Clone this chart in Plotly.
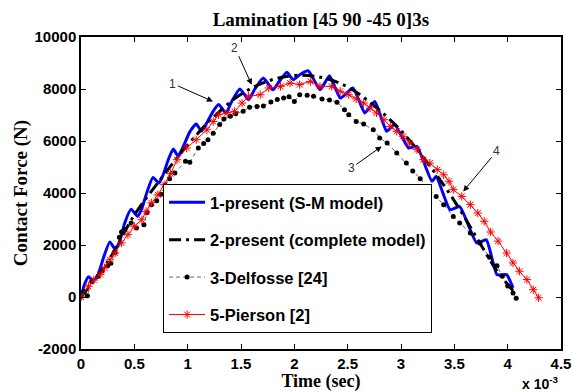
import plotly.graph_objects as go

# ---- data (time in 1e-3 s, force in N) ----
sm_t = [0, 0.03, 0.07, 0.11, 0.15, 0.21, 0.27, 0.32, 0.36, 0.41, 0.47, 0.53, 0.57, 0.62, 0.675,
        0.73, 0.77, 0.82, 0.865, 0.91, 0.96, 1.02, 1.08, 1.13, 1.18, 1.24, 1.29, 1.36, 1.41, 1.49,
        1.57, 1.63, 1.71, 1.80, 1.86, 1.93, 1.99, 2.05, 2.13, 2.24, 2.28, 2.33, 2.43, 2.48, 2.55,
        2.66, 2.70, 2.755, 2.865, 2.90, 2.94, 3.07, 3.10, 3.15, 3.29, 3.33, 3.46, 3.55, 3.71, 3.80,
        3.90, 3.99, 4.05]
sm_f = [0, 450, 780, 640, 760, 1500, 2120, 1840, 2100, 2850, 3380, 3100, 3400, 4050, 4600,
        4380, 4700, 5300, 5690, 5420, 5800, 6350, 6650, 6380, 6700, 7150, 7400, 7080, 7500, 8000,
        7590, 8000, 8420, 7970, 8300, 8640, 8360, 8550, 8700, 7970, 8200, 8510, 7650, 7800, 8040,
        7080, 7250, 7520, 6370, 6500, 6630, 5730, 5750, 5790, 4450, 4640, 3360, 3480, 2080, 2200,
        860, 860, 350]

cm_t = [0, 0.25, 0.5, 0.75, 1.0, 1.25, 1.5, 1.75, 2.0, 2.25, 2.5, 2.75, 3.0, 3.25, 3.5, 3.75, 3.9, 4.05]
cm_f = [0, 1350, 3150, 4550, 5850, 6950, 7800, 8300, 8520, 8450, 8080, 7350, 6400, 5150, 3700, 2000, 1000, 250]

df_t = [0.00, 0.03, 0.06, 0.10, 0.16, 0.20, 0.25, 0.28, 0.32, 0.36, 0.38, 0.41, 0.47, 0.52, 0.59,
        0.62, 0.66, 0.71, 0.75, 0.79, 0.83, 0.88, 0.98, 1.02, 1.10, 1.15, 1.19, 1.24, 1.30, 1.34,
        1.40, 1.45, 1.52, 1.58, 1.65, 1.71, 1.78, 1.84, 1.90, 1.95, 2.00, 2.05, 2.12, 2.18, 2.26,
        2.33, 2.40, 2.47, 2.51, 2.58, 2.65, 2.74, 2.80, 2.87, 2.96, 3.05, 3.11, 3.18, 3.24, 3.33,
        3.40, 3.49, 3.55, 3.65, 3.74, 3.83, 3.90, 3.95, 4.00, 4.05, 4.08]
df_f = [0, 200, 50, 600, 800, 1000, 1200, 1300, 1700, 2300, 2500, 2600, 2850, 2650, 2780,
        3250, 3550, 3700, 3950, 4300, 4550, 4770, 5220, 5180, 5730, 5900, 6050, 6300, 6630, 6850,
        6950, 7050, 7140, 7300, 7330, 7350, 7500, 7600, 7650, 7700, 7520, 7780, 7760, 7720, 7620,
        7580, 7490, 7200, 7010, 6750, 6650, 6430, 6120, 5920, 5540, 5150, 4850, 4550, 4250, 3870,
        3550, 3100, 2850, 2460, 2080, 1530, 1200, 800, 420, 150, -50]

pi_t = [0, 0.07, 0.12, 0.18, 0.22, 0.27, 0.32, 0.38, 0.44, 0.50, 0.57, 0.61, 0.66, 0.72, 0.78,
        0.84, 0.90, 0.99, 1.08, 1.18, 1.24, 1.29, 1.37, 1.44, 1.51, 1.57, 1.68, 1.76, 1.87, 1.96,
        2.05, 2.15, 2.24, 2.35, 2.43, 2.51, 2.58, 2.65, 2.71, 2.77, 2.84, 2.90, 2.96, 3.02, 3.08,
        3.15, 3.21, 3.27, 3.34, 3.40, 3.45, 3.49, 3.57, 3.65, 3.72, 3.78, 3.84, 3.91, 3.99, 4.05,
        4.11, 4.18, 4.24, 4.29]
pi_f = [0, 410, 650, 860, 1120, 1430, 1690, 2080, 2400, 2720, 2970, 3290, 3620, 3930, 4320,
        4750, 5280, 5730, 6050, 6430, 6750, 7010, 7080, 7140, 7460, 7720, 7780, 8040, 8100, 8230,
        8170, 8290, 8100, 8100, 7910, 7780, 7620, 7460, 7270, 7080, 6820, 6560, 6370, 6180, 5920,
        5670, 5280, 5150, 4900, 4700, 4450, 4130, 3870, 3550, 3230, 2910, 2500, 2150, 1690, 1310,
        990, 670, 280, -30]

names = ["1-present (S-M model)", "2-present (complete model)", "3-Delfosse [24]", "5-Pierson [2]"]
x_ticks = [0, 0.5, 1, 1.5, 2, 2.5, 3, 3.5, 4, 4.5]
x_ticktext = ["0", "0.5", "1", "1.5", "2", "2.5", "3", "3.5", "4", "4.5"]
y_ticks = [-2000, 0, 2000, 4000, 6000, 8000, 10000]
y_ticktext = ["-2000", "0", "2000", "4000", "6000", "8000", "10000"]

# arrows: (label, head_t, head_f, text_t, text_f)
arrows = [("1", 1.237, 7523, 0.862, 8203),
          ("2", 1.60, 8165, 1.443, 9588),
          ("3", 2.818, 5792, 2.534, 4961),
          ("4", 3.583, 4061, 3.896, 5600)]

fig = go.Figure()
fig.add_trace(go.Scatter(x=sm_t, y=sm_f, mode="lines", name=names[0], legendgroup="a",
                         line=dict(color="#0000ff", width=3, shape="spline", smoothing=0.5)))
fig.add_trace(go.Scatter(x=cm_t, y=cm_f, mode="lines", name=names[1], legendgroup="b",
                         line=dict(color="black", width=3, dash="12px,5px,3px,5px", shape="spline")))
fig.add_trace(go.Scatter(x=df_t, y=df_f, mode="lines+markers", name=names[2], legendgroup="c",
                         line=dict(color="black", width=0.6, dash="4px,3px"),
                         marker=dict(symbol="circle", size=5, color="black")))
fig.add_trace(go.Scatter(x=pi_t, y=pi_f, mode="lines+markers", name=names[3], legendgroup="d",
                         line=dict(color="red", width=1),
                         marker=dict(symbol="asterisk-open", size=7, line=dict(color="red", width=1))))

for lab, ht, hf, tt, tf in arrows:
    fig.add_annotation(x=ht, y=hf, ax=tt, ay=tf, xref="x", yref="y", axref="x", ayref="y",
                       text=lab, showarrow=True, arrowhead=2, arrowsize=1.2, arrowwidth=1,
                       arrowcolor="black", font=dict(family="Liberation Sans", size=12, color="#333"))

fig.add_annotation(x=1.0, y=-0.11, xref="paper", yref="paper", showarrow=False,
                   text="<b>x 10<sup>-3</sup></b>", font=dict(family="Liberation Sans", size=14, color="black"),
                   xanchor="right", yanchor="middle")

axis_common = dict(showgrid=False, zeroline=False, showline=True, linecolor="black", linewidth=1.5,
                   mirror="ticks", ticks="inside", ticklen=5, tickcolor="black", tickwidth=1,
                   automargin=False,
                   tickfont=dict(family="Liberation Sans", size=15, color="black", weight="bold"))

fig.update_layout(
    width=572, height=392,
    margin=dict(l=81, r=11, t=37, b=43, autoexpand=False),
    paper_bgcolor="white", plot_bgcolor="white",
    title=dict(text="Lamination [45 90 -45 0]3s", x=0.561, xanchor="center", y=0.95, yanchor="middle",
               font=dict(family="Liberation Serif", size=19, color="black", weight="bold")),
    xaxis=dict(range=[0, 4.5], tickvals=x_ticks, ticktext=x_ticktext,
               title=dict(text="Time (sec)", standoff=0,
                          font=dict(family="Liberation Serif", size=18, color="black", weight="bold")),
               **axis_common),
    yaxis=dict(range=[-2000, 10000], tickvals=y_ticks, ticktext=y_ticktext,
               title=dict(text="Contact Force (N)", standoff=2,
                          font=dict(family="Liberation Serif", size=19, color="black", weight="bold")),
               **axis_common),
    legend=dict(x=0.171, y=0.529, xanchor="left", yanchor="top", bgcolor="white",
                bordercolor="black", borderwidth=1, tracegroupgap=13, itemwidth=36,
                font=dict(family="Liberation Sans", size=16.5, color="black", weight="bold")),
    showlegend=True,
)

fig.write_html("out.html")
